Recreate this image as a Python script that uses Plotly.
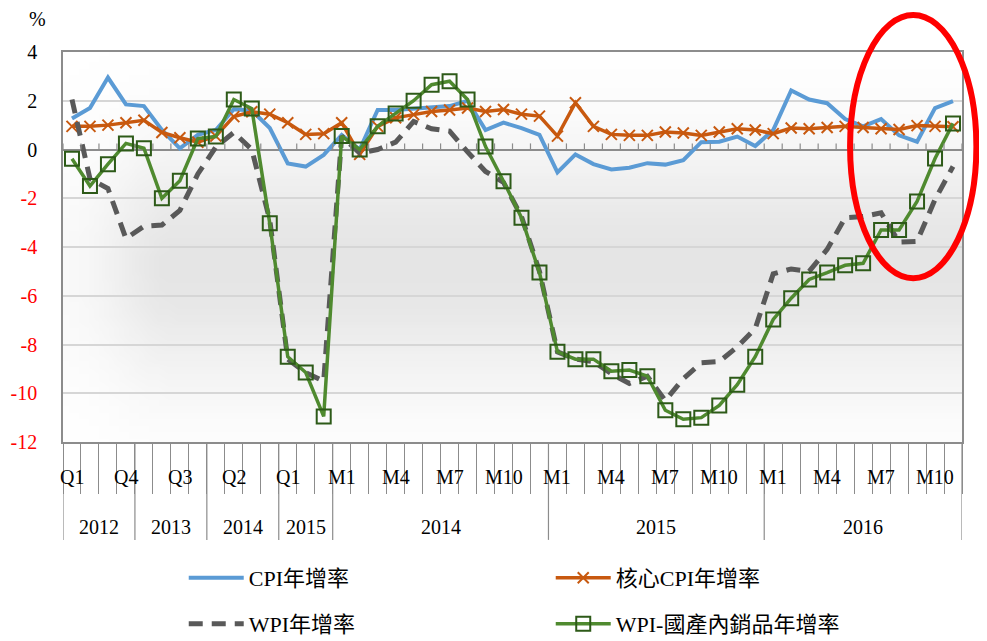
import base64, math, struct, zlib
import plotly.graph_objects as go

# ---------------- data ----------------
group_names = ["2012", "2013", "2014", "2015", "2014", "2015", "2016"]
group_sizes = [4, 4, 4, 3, 12, 12, 11]
period_labels = (["Q1", "Q2", "Q3", "Q4"] * 3 + ["Q1", "Q2", "Q3"]
                 + ["M%d" % m for m in range(1, 13)] * 2
                 + ["M%d" % m for m in range(1, 12)])

cpi = [1.27, 1.7, 2.95, 1.85, 1.78, 0.8, 0.05, 0.6, 0.8, 1.65, 1.6, 0.88, -0.57, -0.7, -0.22,
       0.6, 0.0, 1.62, 1.62, 1.66, 1.72, 1.78, 2.0, 0.8, 1.1, 0.88, 0.6,
       -0.94, -0.2, -0.6, -0.82, -0.75, -0.56, -0.62, -0.44, 0.3, 0.32, 0.53, 0.14,
       0.8, 2.42, 2.05, 1.9, 1.25, 0.95, 1.25, 0.58, 0.32, 1.7, 1.98]
core_cpi = [0.95, 0.95, 1.0, 1.1, 1.2, 0.7, 0.48, 0.3, 0.55, 1.35, 1.55, 1.45, 1.1, 0.62, 0.65,
            1.1, -0.2, 0.95, 1.3, 1.43, 1.56, 1.62, 1.7, 1.56, 1.64, 1.45, 1.37,
            0.55, 1.92, 0.95, 0.62, 0.58, 0.58, 0.72, 0.68, 0.58, 0.72, 0.85, 0.8,
            0.65, 0.88, 0.85, 0.9, 0.95, 0.9, 0.85, 0.82, 0.98, 0.95, 0.93]
wpi = [2.05, -1.2, -1.6, -3.65, -3.15, -3.1, -2.5, -1.0, 0.1, 0.7, 0.0, -2.9, -8.6, -9.15, -9.5,
       0.55, -0.15, 0.0, 0.3, 1.15, 0.85, 0.75, -0.1, -0.9, -1.35, -2.75, -5.0,
       -8.3, -8.6, -8.7, -9.2, -9.6, -9.3, -10.3, -9.4, -8.75, -8.7, -8.1, -7.35,
       -5.1, -4.9, -5.0, -4.1, -2.8, -2.75, -2.6, -3.8, -3.77, -2.05, -0.7]
wpi_domestic = [-0.38, -1.5, -0.6, 0.25, 0.05, -2.0, -1.28, 0.45, 0.53, 2.05, 1.68, -3.03, -8.5, -9.15, -10.95,
                0.55, 0.0, 0.95, 1.48, 2.0, 2.66, 2.8, 2.05, 0.12, -1.3, -2.8, -5.05,
                -8.3, -8.6, -8.6, -9.1, -9.05, -9.3, -10.7, -11.07, -11.0, -10.5, -9.65, -8.5,
                -6.97, -6.1, -5.33, -5.05, -4.75, -4.67, -3.3, -3.3, -2.13, -0.37, 1.07]

y_ticks = [-12, -10, -8, -6, -4, -2, 0, 2, 4]

n = len(period_labels)
xs = list(range(n))

# ---------------- background gradient image ----------------
def gradient_png(w, h):
    raw = b""
    for j in range(h):
        t = j / (h - 1)
        v = math.exp(-((t - 0.55) / 0.3) ** 2)
        row = bytearray([0])
        for i in range(w):
            s = i / (w - 1)
            hx = min(1.0, s / 0.12)
            hx = hx * hx * (3 - 2 * hx)
            c = int(round(255 - 26 * v * (0.25 + 0.75 * hx)))
            row += bytes([c, c, c])
        raw += bytes(row)
    def chunk(tag, data):
        return (struct.pack(">I", len(data)) + tag + data
                + struct.pack(">I", zlib.crc32(tag + data) & 0xffffffff))
    png = (b"\x89PNG\r\n\x1a\n"
           + chunk(b"IHDR", struct.pack(">IIBBBBB", w, h, 8, 2, 0, 0, 0))
           + chunk(b"IDAT", zlib.compress(raw, 9))
           + chunk(b"IEND", b""))
    return "data:image/png;base64," + base64.b64encode(png).decode()

SERIF = "Liberation Serif, Times New Roman, Noto Sans CJK TC, serif"
AXIS_GRAY = "#8c8c8c"

fig = go.Figure()

fig.add_trace(go.Scatter(
    x=xs, y=cpi, name="CPI年增率", mode="lines",
    line=dict(color="#5B9BD5", width=4), legend="legend"))
fig.add_trace(go.Scatter(
    x=xs, y=core_cpi, name="核心CPI年增率", mode="lines+markers",
    line=dict(color="#C8590F", width=3.5),
    marker=dict(symbol="x-thin", size=11, line=dict(color="#C8590F", width=2)),
    legend="legend"))
fig.add_trace(go.Scatter(
    x=xs, y=wpi, name="WPI年增率", mode="lines",
    line=dict(color="#595959", width=5, dash="14px,9px"), legend="legend2"))
fig.add_trace(go.Scatter(
    x=xs, y=wpi_domestic, name="WPI-國產內銷品年增率", mode="lines+markers",
    line=dict(color="#4F8A2F", width=3.5),
    marker=dict(symbol="square-open", size=14, color="#2D5A18",
                line=dict(color="#2D5A18", width=2)),
    legend="legend2"))

# ---------------- decorations ----------------
shapes = []
for k in range(n + 1):
    shapes.append(dict(type="line", xref="x", yref="y", x0=k - 0.5, x1=k - 0.5,
                       y0=0, y1=0.25, line=dict(color=AXIS_GRAY, width=1.2)))
b = -0.5
bounds = [b]
for g in group_sizes:
    b += g
    bounds.append(b)
for bx in bounds:
    shapes.append(dict(type="line", xref="x", yref="paper", x0=bx, x1=bx,
                       y0=0, y1=-0.251, line=dict(color=AXIS_GRAY, width=1.2)))
shapes.append(dict(type="circle", xref="paper", yref="paper",
                   x0=0.8755, x1=1.016, y0=0.42, y1=1.095,
                   line=dict(color="#FF0000", width=6)))

annotations = []
for i in range(0, n, 3):
    annotations.append(dict(x=i, y=-0.09, xref="x", yref="paper", text=period_labels[i],
                            showarrow=False, font=dict(family=SERIF, size=20, color="black"),
                            xanchor="center", yanchor="middle"))
start = 0
for name, g in zip(group_names, group_sizes):
    annotations.append(dict(x=start + (g - 1) / 2, y=-0.218, xref="x", yref="paper", text=name,
                            showarrow=False, font=dict(family=SERIF, size=20, color="black"),
                            xanchor="center", yanchor="middle"))
    start += g
annotations.append(dict(x=-0.028, y=1.085, xref="paper", yref="paper", text="%",
                        showarrow=False, font=dict(family=SERIF, size=20, color="black"),
                        xanchor="center", yanchor="middle"))

tick_text = [("<span style='color:#FF0000'>%d</span>" % v) if v < 0 else str(v) for v in y_ticks]

legend_common = dict(orientation="h", xanchor="left", yanchor="middle",
                     entrywidth=297, entrywidthmode="pixels", itemwidth=55,
                     bgcolor="rgba(0,0,0,0)",
                     font=dict(family=SERIF, size=22, color="black"))

# page body has an 8px margin: figure is offset so the plot lands where the reference has it;
# the figure is a bit taller than the window so the legends never push the margins.
fig.update_layout(
    width=979, height=680, autosize=False,
    margin=dict(l=55, r=25, t=44, b=246),
    paper_bgcolor="white", plot_bgcolor="white",
    showlegend=True,
    legend=dict(x=0.1343, y=-0.3487, **legend_common),
    legend2=dict(x=0.1343, y=-0.4667, **legend_common),
    xaxis=dict(range=[-0.5, n - 0.5], tickvals=[k - 0.5 for k in range(n + 1)],
               ticks="outside", ticklen=50, tickwidth=1.2, tickcolor=AXIS_GRAY,
               showticklabels=False, showgrid=False, zeroline=False, automargin=False,
               showline=True, mirror=True, linecolor=AXIS_GRAY, linewidth=1.5),
    yaxis=dict(range=[-12, 4], tickvals=y_ticks, ticktext=tick_text, automargin=False,
               showgrid=True, gridcolor="#d6d6d6", gridwidth=1.5,
               zeroline=True, zerolinecolor=AXIS_GRAY, zerolinewidth=1.5,
               showline=True, mirror=True, linecolor=AXIS_GRAY, linewidth=1.5,
               ticks="", ticklabelstandoff=20,
               tickfont=dict(family=SERIF, size=20, color="black")),
    shapes=shapes,
    annotations=annotations,
    images=[dict(source=gradient_png(90, 60), xref="paper", yref="paper",
                 x=0, y=1, sizex=1, sizey=1, sizing="stretch", layer="below")],
)

fig.write_html("out.html")
